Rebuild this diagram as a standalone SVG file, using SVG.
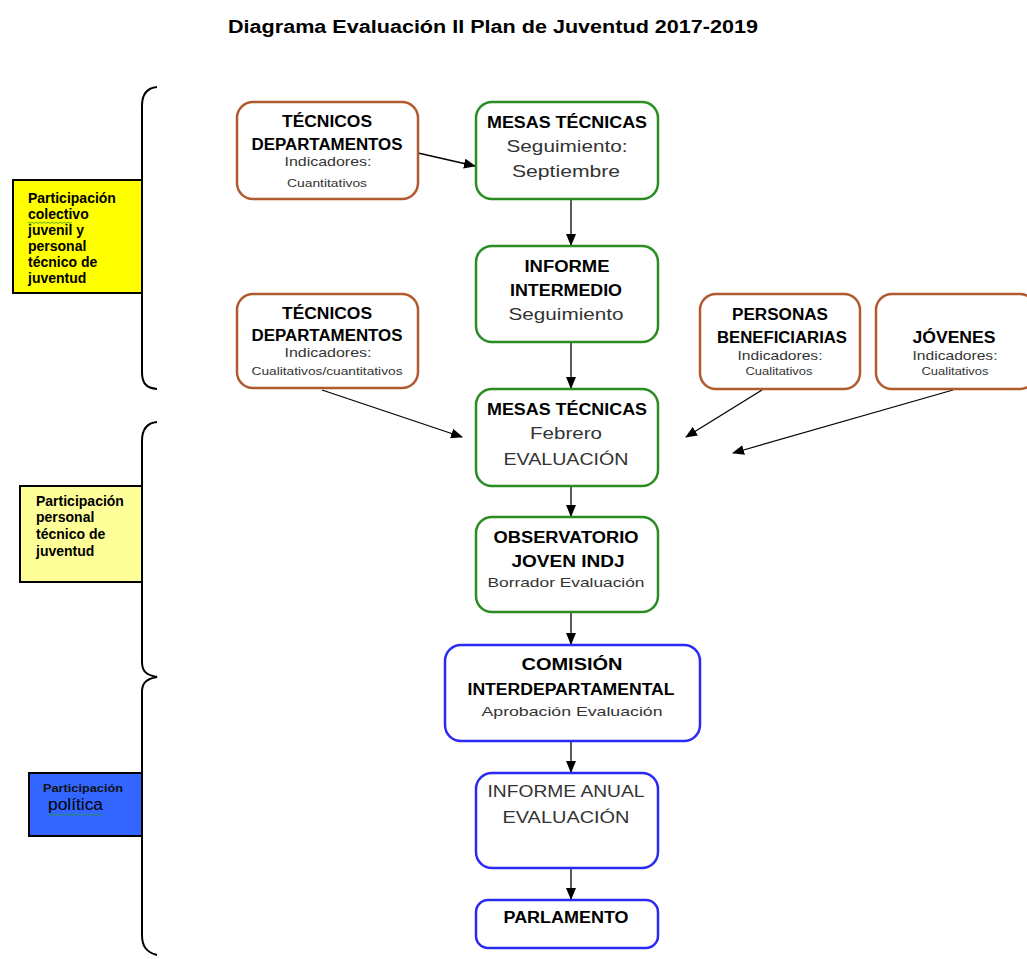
<svg xmlns="http://www.w3.org/2000/svg" width="1027" height="959" viewBox="0 0 1027 959">
<defs>
<marker id="ah" markerWidth="12" markerHeight="10" refX="11" refY="5" orient="auto" markerUnits="userSpaceOnUse">
<path d="M0,0 L12,5 L0,10 Z" fill="#000"/>
</marker>
<style>
text{font-family:"Liberation Sans",Arial,sans-serif;text-anchor:middle;}
.b{font-weight:bold;font-size:16px;fill:#000;}
.m{font-size:17px;fill:#333;}
.s{font-size:13px;fill:#333;}
.xs{font-size:10px;fill:#333;}
.brown{fill:#fff;stroke:#B05A30;stroke-width:2.5;}
.green{fill:#fff;stroke:#2A8C22;stroke-width:2.5;}
.blue{fill:#fff;stroke:#2A2AF2;stroke-width:2.5;}
.lab{font-weight:bold;font-size:14px;fill:#000;text-anchor:start;}
.brace{fill:none;stroke:#000;stroke-width:2;}
.conn line{stroke:#000;stroke-width:1.3;marker-end:url(#ah);}
</style>
</defs>
<rect width="1027" height="959" fill="#fff"/>

<text x="493" y="33" style="font-weight:bold;font-size:18px;fill:#000" textLength="530" lengthAdjust="spacingAndGlyphs">Diagrama Evaluación II Plan de Juventud 2017-2019</text>

<!-- braces -->
<g id="braces">
<path class="brace" d="M157,87 C146,88 142,95 142,106 L142,372 C142,383 146,388 157,389"/>
<path class="brace" d="M157,422 C146,423 142,430 142,441 L142,662 C142,671 146,675 157,677 C146,679 142,683 142,692 L142,935 C142,946 146,952 157,955"/>
</g>

<!-- left labels -->
<g id="lab1">
<rect x="13" y="180" width="129" height="113" fill="#FFFF00" stroke="#000" stroke-width="2"/>
<text class="lab" x="28" y="203">Participación</text>
<text class="lab" x="28" y="219">colectivo</text>
<text class="lab" x="28" y="235">juvenil y</text>
<text class="lab" x="28" y="251">personal</text>
<text class="lab" x="28" y="267">técnico de</text>
<text class="lab" x="28" y="283">juventud</text>
<path d="M28,222 l2,1.5 l2,-1.5 l2,1.5 l2,-1.5 l2,1.5 l2,-1.5 l2,1.5 l2,-1.5 l2,1.5 l2,-1.5 l2,1.5 l2,-1.5 l2,1.5 l2,-1.5 l2,1.5 l2,-1.5 l2,1.5 l2,-1.5 l2,1.5 l2,-1.5 l2,1.5 l2,-1.5" fill="none" stroke="#2a9a2a" stroke-width="0.8"/>
</g>
<g id="lab2">
<rect x="20" y="486" width="122" height="96" fill="#FFFF99" stroke="#000" stroke-width="2"/>
<text class="lab" x="36" y="506">Participación</text>
<text class="lab" x="36" y="522">personal</text>
<text class="lab" x="36" y="539">técnico de</text>
<text class="lab" x="36" y="556">juventud</text>
</g>
<g id="lab3">
<rect x="29" y="773" width="113" height="63" fill="#3366FF" stroke="#000" stroke-width="2"/>
<text x="43" y="792" style="font-weight:bold;font-size:11.5px;fill:#111;text-anchor:start" textLength="80" lengthAdjust="spacingAndGlyphs">Participación</text>
<text x="48" y="810" style="font-size:16px;fill:#000;text-anchor:start" textLength="55" lengthAdjust="spacingAndGlyphs">política</text>
<path d="M48,814 l2,1.5 l2,-1.5 l2,1.5 l2,-1.5 l2,1.5 l2,-1.5 l2,1.5 l2,-1.5 l2,1.5 l2,-1.5 l2,1.5 l2,-1.5 l2,1.5 l2,-1.5 l2,1.5 l2,-1.5 l2,1.5 l2,-1.5 l2,1.5 l2,-1.5 l2,1.5 l2,-1.5 l2,1.5 l2,-1.5 l2,1.5 l2,-1.5 l2,1.5" fill="none" stroke="#2a9a2a" stroke-width="0.8"/>
</g>

<!-- connectors -->
<g id="connectors" class="conn">
<line x1="418" y1="153" x2="475" y2="166"/>
<line x1="571" y1="199" x2="571" y2="245"/>
<line x1="571" y1="342" x2="571" y2="388"/>
<line x1="322" y1="390" x2="462" y2="437"/>
<line x1="762" y1="390" x2="686" y2="437"/>
<line x1="953" y1="390" x2="733" y2="453"/>
<line x1="571" y1="486" x2="571" y2="516"/>
<line x1="571" y1="612" x2="571" y2="644"/>
<line x1="571" y1="741" x2="571" y2="772"/>
<line x1="571" y1="868" x2="571" y2="899"/>
</g>

<!-- nodes -->
<g id="tec1">
<rect class="brown" x="237" y="102" width="181" height="97" rx="16"/>
<text class="b" x="327" y="127" textLength="90" lengthAdjust="spacingAndGlyphs">TÉCNICOS</text>
<text class="b" x="327" y="150" textLength="151" lengthAdjust="spacingAndGlyphs">DEPARTAMENTOS</text>
<text class="s" x="328" y="166" textLength="87" lengthAdjust="spacingAndGlyphs">Indicadores:</text>
<text class="xs" x="327" y="187" textLength="80" lengthAdjust="spacingAndGlyphs">Cuantitativos</text>
</g>
<g id="mesas1">
<rect class="green" x="476" y="102" width="182" height="97" rx="16"/>
<text class="b" x="567" y="128" textLength="160" lengthAdjust="spacingAndGlyphs">MESAS TÉCNICAS</text>
<text class="m" x="567" y="152" textLength="121" lengthAdjust="spacingAndGlyphs">Seguimiento:</text>
<text class="m" x="566" y="177" textLength="108" lengthAdjust="spacingAndGlyphs">Septiembre</text>
</g>
<g id="intermedio">
<rect class="green" x="476" y="246" width="182" height="96" rx="16"/>
<text class="b" x="567" y="272" textLength="85" lengthAdjust="spacingAndGlyphs">INFORME</text>
<text class="b" x="566" y="296" textLength="112" lengthAdjust="spacingAndGlyphs">INTERMEDIO</text>
<text class="m" x="566" y="320" textLength="115" lengthAdjust="spacingAndGlyphs">Seguimiento</text>
</g>
<g id="tec2">
<rect class="brown" x="237" y="294" width="181" height="94" rx="16"/>
<text class="b" x="327" y="319" textLength="90" lengthAdjust="spacingAndGlyphs">TÉCNICOS</text>
<text class="b" x="327" y="341" textLength="151" lengthAdjust="spacingAndGlyphs">DEPARTAMENTOS</text>
<text class="s" x="328" y="357" textLength="87" lengthAdjust="spacingAndGlyphs">Indicadores:</text>
<text class="xs" x="327" y="375" textLength="151" lengthAdjust="spacingAndGlyphs">Cualitativos/cuantitativos</text>
</g>
<g id="personas">
<rect class="brown" x="700" y="294" width="160" height="95" rx="16"/>
<text class="b" x="780" y="320" textLength="96" lengthAdjust="spacingAndGlyphs">PERSONAS</text>
<text class="b" x="782" y="343" textLength="130" lengthAdjust="spacingAndGlyphs">BENEFICIARIAS</text>
<text class="s" x="780" y="360" textLength="85" lengthAdjust="spacingAndGlyphs">Indicadores:</text>
<text class="xs" x="779" y="375" textLength="67" lengthAdjust="spacingAndGlyphs">Cualitativos</text>
</g>
<g id="jovenes">
<rect class="brown" x="876" y="294" width="160" height="95" rx="16"/>
<text class="b" x="954" y="343" textLength="83" lengthAdjust="spacingAndGlyphs">JÓVENES</text>
<text class="s" x="955" y="360" textLength="85" lengthAdjust="spacingAndGlyphs">Indicadores:</text>
<text class="xs" x="955" y="375" textLength="67" lengthAdjust="spacingAndGlyphs">Cualitativos</text>
</g>
<g id="mesas2">
<rect class="green" x="476" y="389" width="182" height="97" rx="16"/>
<text class="b" x="567" y="415" textLength="160" lengthAdjust="spacingAndGlyphs">MESAS TÉCNICAS</text>
<text class="m" x="566" y="439" textLength="72" lengthAdjust="spacingAndGlyphs">Febrero</text>
<text class="m" x="566" y="465" textLength="125" lengthAdjust="spacingAndGlyphs">EVALUACIÓN</text>
</g>
<g id="observatorio">
<rect class="green" x="476" y="517" width="182" height="95" rx="16"/>
<text class="b" x="566" y="543" textLength="145" lengthAdjust="spacingAndGlyphs">OBSERVATORIO</text>
<text class="b" x="568" y="567" textLength="113" lengthAdjust="spacingAndGlyphs">JOVEN INDJ</text>
<text class="s" x="566" y="587" textLength="157" lengthAdjust="spacingAndGlyphs">Borrador Evaluación</text>
</g>
<g id="comision">
<rect class="blue" x="445" y="645" width="255" height="96" rx="16"/>
<text class="b" x="572" y="670" textLength="101" lengthAdjust="spacingAndGlyphs">COMISIÓN</text>
<text class="b" x="571" y="695" textLength="207" lengthAdjust="spacingAndGlyphs">INTERDEPARTAMENTAL</text>
<text class="s" x="572" y="716" textLength="181" lengthAdjust="spacingAndGlyphs">Aprobación Evaluación</text>
</g>
<g id="anual">
<rect class="blue" x="476" y="773" width="182" height="95" rx="16"/>
<text class="m" x="566" y="797" textLength="157" lengthAdjust="spacingAndGlyphs">INFORME ANUAL</text>
<text class="m" x="566" y="823" textLength="127" lengthAdjust="spacingAndGlyphs">EVALUACIÓN</text>
</g>
<g id="parlamento">
<rect class="blue" x="476" y="900" width="182" height="48" rx="12"/>
<text class="b" x="566" y="923" textLength="125" lengthAdjust="spacingAndGlyphs">PARLAMENTO</text>
</g>
</svg>
